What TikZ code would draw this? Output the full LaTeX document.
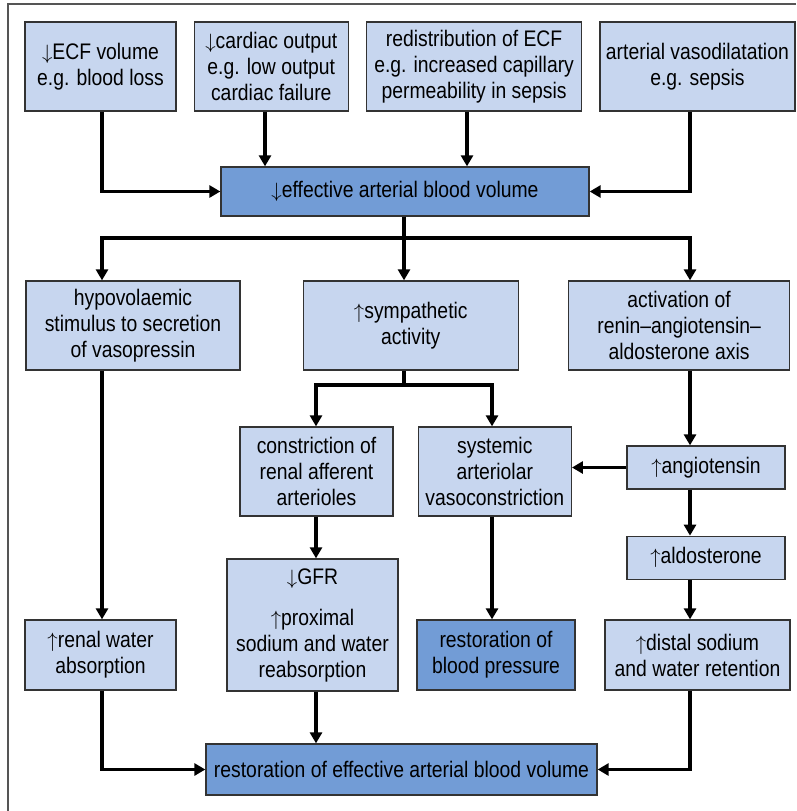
\documentclass[tikz,border=0pt]{standalone}
\usepackage{fontspec}
\setmainfont{Liberation Sans}[FakeStretch=0.86]
\usetikzlibrary{arrows.meta,positioning,calc}
\definecolor{paleblue}{RGB}{199,214,239}
\definecolor{midblue}{RGB}{114,156,214}
\definecolor{framegray}{RGB}{85,85,85}
\newcommand{\up}{$\uparrow$}
\newcommand{\down}{$\downarrow$}
\tikzset{
  box/.style={rectangle, draw=black!80, line width=1.3pt, fill=paleblue, align=center, inner sep=2pt, font=\fontsize{22.5}{26}\selectfont},
  keybox/.style={box, fill=midblue},
  arrow/.style={-{Triangle[length=11pt,width=12pt]}, line width=3.5pt, draw=black}
}
\begin{document}
\begin{tikzpicture}[x=1pt, y=1pt]
\useasboundingbox (0,0) rectangle (796,-811);
\draw[framegray, line width=1.5pt] (796,-4) -- (8,-4) -- (8,-811);
\coordinate (lft) at (102,0); \coordinate (crd) at (265,0); \coordinate (aff) at (316,0);
\coordinate (mid) at (404,0); \coordinate (red) at (467,0); \coordinate (sys) at (492,0);
\coordinate (rgt) at (690,0);
\coordinate (split1) at (404,-238); \coordinate (split2) at (404,-385);
\node[box, minimum width=151pt, minimum height=89pt] (ecf) at (100.5,-66.5) {\down ECF volume\\e.g. blood loss};
\node[box, minimum width=154pt, minimum height=89pt, right=17pt of ecf] (cardiac) {\down cardiac output\\e.g. low output\\cardiac failure};
\node[box, minimum width=215pt, minimum height=89pt, right=17pt of cardiac] (redist) {redistribution of ECF\\e.g. increased capillary\\permeability in sepsis};
\node[box, minimum width=195pt, minimum height=89pt, right=17pt of redist] (vasodil) {arterial vasodilatation\\e.g. sepsis};
\node[keybox, minimum width=368pt, minimum height=49pt] (eabv) at (405,-191.5) {\down effective arterial blood volume};
\node[box, minimum width=214pt, minimum height=89pt] (hypo) at (133,-325.5) {hypovolaemic\\stimulus to secretion\\of vasopressin};
\node[box, minimum width=215pt, minimum height=89pt, right=62pt of hypo] (symp) {\up sympathetic\\activity};
\node[box, minimum width=221pt, minimum height=89pt, right=49pt of symp] (raas) {activation of\\renin–angiotensin–\\aldosterone axis};
\node[box, minimum width=153pt, minimum height=89pt] (constr) at (316.5,-471.5) {constriction of\\renal afferent\\arterioles};
\node[box, minimum width=153pt, minimum height=89pt, right=24pt of constr] (sysart) {systemic\\arteriolar\\vasoconstriction};
\node[box, minimum width=158pt, minimum height=43pt] (angio) at (706,-467.5) {\up angiotensin};
\node[box, minimum width=158pt, minimum height=43pt, below=46pt of angio] (aldo) {\up aldosterone};
\node[box, minimum width=171pt, minimum height=132pt] (gfr) at (312.5,-625) {\down GFR\\[15pt]\up proximal\\sodium and water\\reabsorption};
\node[box, minimum width=151pt, minimum height=70pt] (renal) at (100.5,-655) {\up renal water\\absorption};
\node[keybox, minimum width=158pt, minimum height=70pt] (resbp) at (496,-655) {restoration of\\blood pressure};
\node[box, minimum width=185pt, minimum height=70pt] (distal) at (697.5,-655) {\up distal sodium\\and water retention};
\node[keybox, minimum width=391pt, minimum height=51pt] (resv) at (401.5,-769.5) {restoration of effective arterial blood volume};
\draw[arrow] (ecf.south -| lft) |- (eabv.west);
\draw[arrow] (cardiac.south -| crd) -- (eabv.north -| crd);
\draw[arrow] (redist.south -| red) -- (eabv.north -| red);
\draw[arrow] (vasodil.south -| rgt) |- (eabv.east);
\draw[arrow] (eabv.south -| mid) -- (split1) -| (hypo.north -| lft);
\draw[arrow] (eabv.south -| mid) -- (symp.north -| mid);
\draw[arrow] (split1) -| (raas.north -| rgt);
\draw[arrow] (symp.south -| mid) -- (split2) -| (constr.north -| aff);
\draw[arrow] (split2) -| (sysart.north -| sys);
\draw[arrow] (raas.south -| rgt) -- (angio.north -| rgt);
\draw[arrow] (angio.west) -- (sysart.east |- angio.west);
\draw[arrow] (angio.south -| rgt) -- (aldo.north -| rgt);
\draw[arrow] (aldo.south -| rgt) -- (distal.north -| rgt);
\draw[arrow] (hypo.south -| lft) -- (renal.north -| lft);
\draw[arrow] (constr.south -| aff) -- (gfr.north -| aff);
\draw[arrow] (sysart.south -| sys) -- (resbp.north -| sys);
\draw[arrow] (renal.south -| lft) |- (resv.west);
\draw[arrow] (gfr.south -| aff) -- (resv.north -| aff);
\draw[arrow] (distal.south -| rgt) |- (resv.east);
\end{tikzpicture}
\end{document}
